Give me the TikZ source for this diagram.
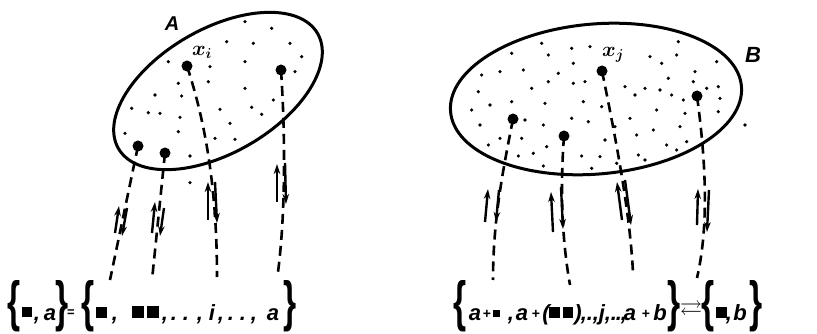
\documentclass[tikz,border=0pt]{standalone}
\usepackage{fontspec}
\setmainfont{Liberation Sans}
\usepackage{amssymb}
\usepackage{graphicx}
\usetikzlibrary{arrows.meta}
\newcommand{\blk}[1]{\rule{#1}{#1}}
\newcommand{\bigbrace}[1]{\scalebox{1.4}[2.3]{#1}}
\begin{document}
\begin{tikzpicture}[x=1pt,y=-1pt,
  outline/.style={line width=3pt},
  bigdot/.style={circle,fill=black,inner sep=0pt,minimum size=11pt},
  dash line/.style={line width=2.6pt,dash pattern=on 10pt off 6pt},
  arr/.style={line width=2.4pt,-{Stealth[length=10pt,width=6.5pt]}},
  ftxt/.style={font=\fontsize{22}{26}\selectfont\bfseries\itshape,inner sep=0pt,anchor=base},
  plus/.style={font=\fontsize{14}{18}\selectfont\bfseries,inner sep=0pt,anchor=base},
  sq/.style={inner sep=0pt,anchor=south},
  brace/.style={inner sep=0pt,anchor=center,font=\fontsize{24}{28}\selectfont\bfseries},
  lab/.style={inner sep=0pt,anchor=center}
]
\useasboundingbox (0,0) rectangle (817,334);

% ellipses
\draw[outline,rotate around={30:(218,91)}] (218,91) ellipse [x radius=115,y radius=62];
\draw[outline,rotate around={5:(596,99)}] (596,99) ellipse [x radius=146,y radius=75];

% small dots in A
\foreach \x/\y in {465/65,545/85,410/125,490/130,600/130,235/185,360/200,465/185,635/170,615/215,355/245,265/250,465/265,195/285,275/288,550/300,125/325,175/338,210/340,390/328,485/322,515/343,270/352,420/370,105/400,265/395,375/415,435/418,300/468,300/548}
  \fill ({90+\x/3},{\y/3}) circle[radius=1.8];
% small dots in B
\foreach \x/\y in {335/70,425/85,480/80,745/65,245/100,355/105,740/105,660/110,695/130,860/125,430/130,155/165,210/155,280/150,385/160,795/155,715/175,790/185,355/185,430/190,465/185,305/205,585/200,615/225,645/205,690/210,725/225,830/205,865/200,145/215,245/245,345/250,460/245,515/260,760/240,870/235,125/270,180/255,285/300,425/295,475/305,600/295,680/270,765/280,865/275,150/315,340/315,555/320,750/320,945/315,210/355,275/355,350/380,175/375,525/360,620/345,670/330,710/375,740/390,770/365,265/408,310/400,455/408,510/410,560/430,625/405,645/420,340/438,485/445}
  \fill ({430+\x/3},{20+\y/3}) circle[radius=1.8];

% labels
\node[lab,font=\fontsize{20}{22}\selectfont\bfseries\itshape] (labA) at (172,24) {A};
\node[lab,font=\fontsize{22}{24}\selectfont\bfseries\itshape] (labB) at (753,55) {B};
\node[lab,font=\fontsize{22}{26}\selectfont\boldmath] (xi) at (202,52) {$x_i$};
\node[lab,font=\fontsize{22}{26}\selectfont\boldmath] (xj) at (613,55) {$x_j$};

% big dots
\node[bigdot] (a1) at (138,146) {};
\node[bigdot] (a2) at (165,153) {};
\node[bigdot] (a3) at (187,66) {};
\node[bigdot] (a4) at (281,70) {};
\node[bigdot] (b1) at (513,119) {};
\node[bigdot] (b2) at (564,136) {};
\node[bigdot] (b3) at (602,71) {};
\node[bigdot] (b4) at (697,96) {};

% dashed connector ends
\coordinate (ea1) at (110,280);
\coordinate (ea2) at (152,280);
\coordinate (ea3) at (217,277);
\coordinate (ea4) at (278,272);
\coordinate (eb1) at (493,280);
\coordinate (eb2) at (570,285);
\coordinate (eb3) at (633,273);
\coordinate (eb4) at (697,278);

\draw[dash line] (a1.center) -- (ea1);
\draw[dash line] (a2.center) -- (ea2);
\draw[dash line] (a3.center) .. controls (203,115) and (217,180) .. (ea3);
\draw[dash line] (a4.center) .. controls (285,130) and (286,210) .. (ea4);
\draw[dash line] (b1.center) .. controls (503,170) and (493,220) .. (eb1);
\draw[dash line] (b2.center) .. controls (560,190) and (562,240) .. (eb2);
\draw[dash line] (b3.center) .. controls (614,130) and (630,210) .. (eb3);
\draw[dash line] (b4.center) .. controls (707,170) and (708,230) .. (eb4);

% up/down arrow pairs
\draw[arr] (115,233) -- (119,206);  \draw[arr] (127,208) -- (122,236);
\draw[arr] (152,233) -- (155,202);  \draw[arr] (164,208) -- (160,236);
\draw[arr] (208,220) -- (208,182);  \draw[arr] (215,182) -- (217,223);
\draw[arr] (277,202) -- (277,164);  \draw[arr] (285,163) -- (286,204);
\draw[arr] (485,222) -- (488,189);  \draw[arr] (499,190) -- (496,222);
\draw[arr] (553,232) -- (551,192);  \draw[arr] (561,187) -- (563,229);
\draw[arr] (622,220) -- (617,182);  \draw[arr] (625,180) -- (631,225);
\draw[arr] (697,225) -- (698,189);  \draw[arr] (709,190) -- (707,232);

% left formula
\node[brace] (lb1) at (14,306) {\bigbrace{\{}};
\node[sq] (ls1) at (27,317) {\blk{10pt}};
\node[brace] (rb1) at (62,306) {\bigbrace{\}}};
\node[lab,font=\fontsize{13}{14}\selectfont\bfseries] (leq) at (71,313) {=};
\node[brace] (lb2) at (88,306) {\bigbrace{\{}};
\node[sq] (ls2) at (101,318) {\blk{11pt}};
\node[sq] (ls3) at (145,318) {\blk{12pt}\hspace{3pt}\blk{12pt}};
\node[brace] (rb2) at (290,306) {\bigbrace{\}}};
\foreach \x/\t [count=\i] in {37/{,},50/a,115/{,},165/{,},174/.,186/.,200/{,},212/i,221/{,},231/.,243/.,254/{,},273/a}
  \node[ftxt] (lt\i) at (\x,320) {\t};

% right formula
\node[brace] (lb3) at (460,306) {\bigbrace{\{}};
\node[sq] (rs1) at (496,317) {\blk{7pt}};
\node[sq] (rs2) at (561,318) {\blk{10.5pt}\hspace{3pt}\blk{10.5pt}};
\node[brace] (rb3) at (674,306) {\bigbrace{\}}};
\node[lab,font=\fontsize{22}{24}\selectfont\boldmath] (arrs) at (691,310) {$\rightleftarrows$};
\node[brace] (lb4) at (708,306) {\bigbrace{\{}};
\node[sq] (rs3) at (721,318) {\blk{11pt}};
\node[brace] (rb4) at (756,306) {\bigbrace{\}}};
\foreach \x/\t [count=\i] in {475/a,511/{,},522/a,546/(,578/),584/{,},590/.,596/{,},602/j,608/{,},614/.,619/.,624/{,},630/a,660/b,729/{,},740/b}
  \node[ftxt] (rt\i) at (\x,320) {\t};
\foreach \x [count=\i] in {487,536,646}
  \node[plus] (rp\i) at (\x,318) {+};
\end{tikzpicture}
\end{document}
